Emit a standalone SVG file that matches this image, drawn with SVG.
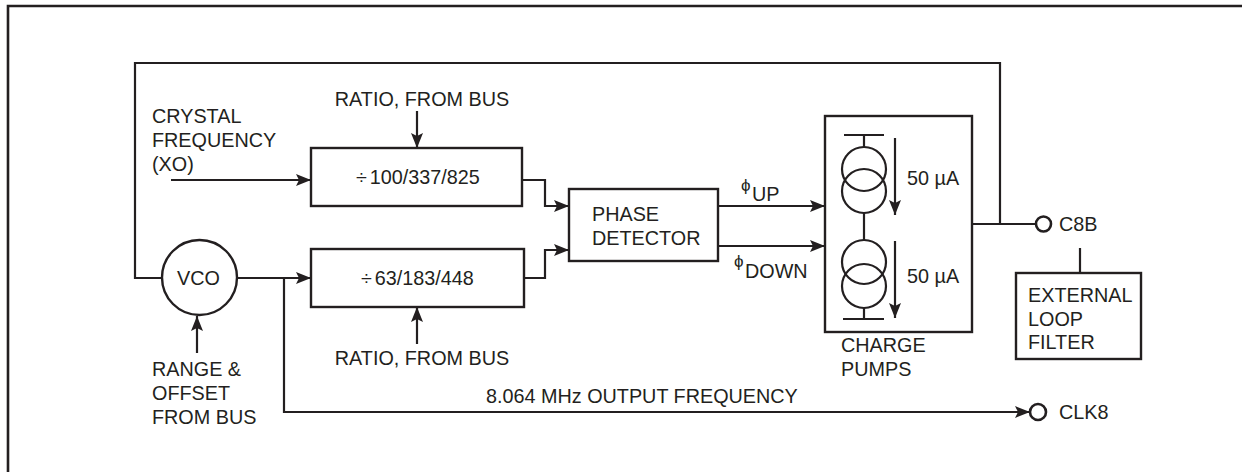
<svg xmlns="http://www.w3.org/2000/svg" width="1242" height="472" viewBox="0 0 1242 472">
<defs>
<style>
text{font-family:"Liberation Sans",Arial,sans-serif;font-size:19.8px;fill:#231f20}
.phi{font-size:17px}
.ln{fill:none;stroke:#231f20;stroke-width:2.2}
.bx{fill:#fff;stroke:#231f20;stroke-width:2.4}
.ar{marker-end:url(#ah)}
</style>
<marker id="ah" markerUnits="userSpaceOnUse" markerWidth="15" markerHeight="12" refX="15" refY="6" orient="auto">
<path d="M0,0 L15,6 L0,12 L3,6 Z" fill="#231f20"/>
</marker>
</defs>
<rect width="1242" height="472" fill="#fff"/>
<path d="M8,480 L8,6 L1250,6" fill="none" stroke="#231f20" stroke-width="2.6"/>

<g id="connectors">
<path class="ln" d="M162,278 L135,278 L135,63 L1000,63 L1000,224"/>
<path class="ln ar" d="M171,180 L311,180"/>
<path class="ln ar" d="M417,111 L417,148"/>
<path class="ln ar" d="M237,278 L311,278"/>
<path class="ln ar" d="M417,344 L417,307"/>
<path class="ln ar" d="M197,353 L197,316"/>
<path class="ln ar" d="M522,180 L545,180 L545,206 L569,206"/>
<path class="ln ar" d="M524,278 L545,278 L545,250 L569,250"/>
<path class="ln ar" d="M718,206 L825,206"/>
<path class="ln ar" d="M718,246 L825,246"/>
<path class="ln ar" d="M284,278 L284,412 L1030,412"/>
<path class="ln" d="M864,224 L1035,224"/>
<path class="ln" d="M1080,248 L1080,273"/>
</g>

<g id="xo-label">
<text x="152" y="123">CRYSTAL</text>
<text x="152" y="147">FREQUENCY</text>
<text x="152" y="171">(XO)</text>
</g>
<g id="ratio-top"><text x="422" y="106" text-anchor="middle">RATIO, FROM BUS</text></g>
<g id="div-top">
<rect class="bx" x="311" y="148" width="211" height="58"/>
<text x="356" y="184">÷<tspan dx="3">100/337/825</tspan></text>
</g>
<g id="div-bottom">
<rect class="bx" x="311" y="249" width="213" height="58"/>
<text x="361" y="285">÷<tspan dx="3">63/183/448</tspan></text>
</g>
<g id="ratio-bottom"><text x="422" y="365" text-anchor="middle">RATIO, FROM BUS</text></g>
<g id="vco">
<circle cx="199.5" cy="277.5" r="37.5" fill="#fff" stroke="#231f20" stroke-width="2.4"/>
<text x="198.5" y="285" text-anchor="middle">VCO</text>
</g>
<g id="range-label">
<text x="152" y="376">RANGE &amp;</text>
<text x="152" y="400">OFFSET</text>
<text x="152" y="424">FROM BUS</text>
</g>
<g id="phase-detector">
<rect class="bx" x="569" y="189" width="149" height="72"/>
<text x="592" y="221">PHASE</text>
<text x="592" y="245">DETECTOR</text>
</g>
<g id="phi-up"><text x="741" y="191" class="phi">ϕ</text><text x="752" y="201">UP</text></g>
<g id="phi-down"><text x="734" y="267" class="phi">ϕ</text><text x="745" y="278">DOWN</text></g>
<g id="charge-pumps">
<rect class="bx" x="825" y="116" width="147" height="216"/>
<path class="ln" d="M844,135 L884,135 M864,135 L864,147 M864,213 L864,240 M864,308 L864,319 M843,319 L884,319"/>
<circle cx="864" cy="169" r="22" class="ln"/>
<circle cx="864" cy="191" r="22" class="ln"/>
<circle cx="864" cy="262" r="22" class="ln"/>
<circle cx="864" cy="286" r="22" class="ln"/>
<path class="ln ar" d="M895,138 L895,215"/>
<path class="ln ar" d="M895,241 L895,318"/>
<text x="907" y="185">50 µA</text>
<text x="907" y="283">50 µA</text>
</g>
<g id="charge-label">
<text x="841" y="352">CHARGE</text>
<text x="841" y="376">PUMPS</text>
</g>
<g id="c8b">
<circle cx="1043.5" cy="224" r="7.5" fill="#fff" stroke="#231f20" stroke-width="2.6"/>
<text x="1059" y="231">C8B</text>
</g>
<g id="loop-filter">
<rect class="bx" x="1016" y="273" width="125" height="86"/>
<text x="1028" y="302">EXTERNAL</text>
<text x="1028" y="326">LOOP</text>
<text x="1028" y="349">FILTER</text>
</g>
<g id="output-label"><text x="486" y="403">8.064 MHz OUTPUT FREQUENCY</text></g>
<g id="clk8">
<circle cx="1038" cy="412" r="8" fill="#fff" stroke="#231f20" stroke-width="2.6"/>
<text x="1059" y="419">CLK8</text>
</g>
</svg>
